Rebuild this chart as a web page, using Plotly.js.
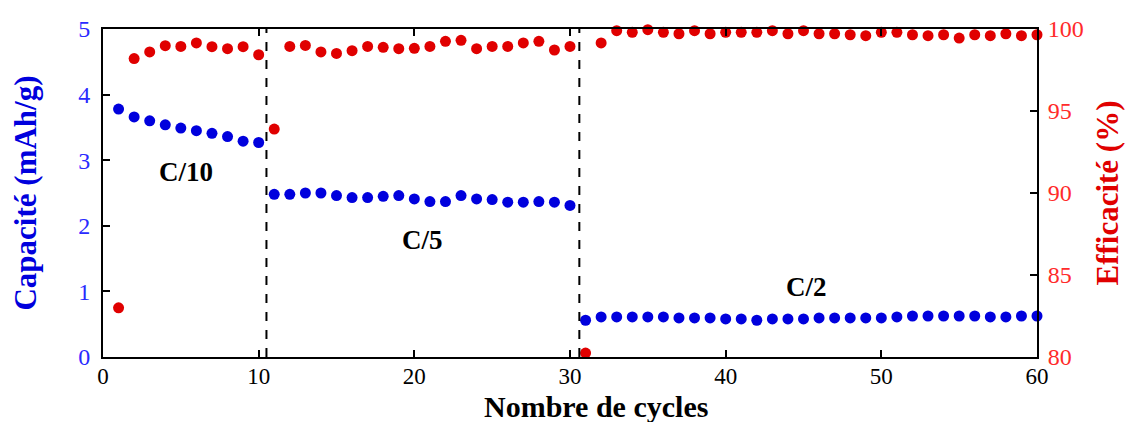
<!DOCTYPE html>
<html>
<head>
<meta charset="utf-8">
<script src="https://cdn.plot.ly/plotly-3.0.1.min.js"></script>
<style>html,body{margin:0;padding:0;background:#fff;}#chart{width:1126px;height:422px;}</style>
</head>
<body>
<div id="chart"></div>
<script>
// Cycle numbers
const cycles = Array.from({length: 60}, (_, i) => i + 1);

// Capacity (mAh/g), cycles 1..60
const capacityC10 = [3.78, 3.66, 3.60, 3.54, 3.49, 3.45, 3.41, 3.36, 3.29, 3.27];
const capacityC5 = [2.48, 2.48, 2.50, 2.50, 2.46, 2.43, 2.43, 2.45, 2.46, 2.41,
                    2.37, 2.37, 2.46, 2.41, 2.40, 2.36, 2.36, 2.37, 2.36, 2.31];
const capacityC2 = [0.56, 0.61, 0.61, 0.61, 0.61, 0.61, 0.595, 0.595, 0.595, 0.58,
                    0.58, 0.56, 0.58, 0.58, 0.58, 0.595, 0.595, 0.595, 0.595, 0.595,
                    0.61, 0.625, 0.625, 0.625, 0.625, 0.625, 0.61, 0.61, 0.625, 0.625];
const capacity = capacityC10.concat(capacityC5, capacityC2);

// Coulombic efficiency (%), cycles 1..60
const efficiency = [
  83.0, 98.2, 98.6, 98.98, 98.94, 99.15, 98.92, 98.8, 98.92, 98.43,
  93.9, 98.94, 99.0, 98.6, 98.51, 98.68, 98.94, 98.88, 98.8, 98.82,
  98.94, 99.25, 99.31, 98.8, 98.94, 98.94, 99.15, 99.25, 98.72, 98.94,
  80.24, 99.15, 99.9, 99.8, 99.96, 99.8, 99.71, 99.9, 99.71, 99.8,
  99.8, 99.8, 99.9, 99.71, 99.9, 99.71, 99.71, 99.65, 99.59, 99.8,
  99.8, 99.65, 99.59, 99.65, 99.45, 99.65, 99.59, 99.71, 99.59, 99.65
];

// Rate-change separators and labels
const separators = [10.5, 30.6];
const rateLabels = ["C/10", "C/5", "C/2"];
const rateLabelX = [5.3, 20.5, 45.2];
const rateLabelY = [2.82, 1.78, 1.07];
const xTitle = "Nombre de cycles";

const FONT = "Liberation Serif, Times New Roman, serif";
const BLUE = "#0000dd";
const RED = "#e00000";

const traces = [
  {x: cycles, y: capacity, type: "scatter", mode: "markers", yaxis: "y",
   marker: {color: BLUE, size: 11}, cliponaxis: false, showlegend: false},
  {x: cycles, y: efficiency, type: "scatter", mode: "markers", yaxis: "y2",
   marker: {color: RED, size: 11}, cliponaxis: false, showlegend: false}
];

const shapes = separators.map(s => ({
  type: "line", xref: "x", yref: "paper", x0: s, x1: s, y0: 0, y1: 1,
  line: {color: "#000", width: 2, dash: "dash"}
}));

const annotations = rateLabels.map((t, i) => ({
  text: "<b>" + t + "</b>", x: rateLabelX[i], y: rateLabelY[i], xref: "x", yref: "y",
  showarrow: false, font: {family: FONT, size: 27, color: "#000"}
}));
annotations.push({
  text: "<b>" + xTitle + "</b>", xref: "paper", yref: "paper", x: 0.528, y: 0,
  xanchor: "center", yanchor: "top", yshift: -32, showarrow: false, borderpad: 0,
  font: {family: FONT, size: 30, color: "#000"}
});

const layout = {
  width: 1126, height: 422,
  margin: {l: 103, r: 89, t: 29, b: 65},
  paper_bgcolor: "#fff", plot_bgcolor: "#fff",
  font: {family: FONT},
  showlegend: false,
  xaxis: {
    range: [0, 60], dtick: 10, tick0: 0,
    showgrid: false, zeroline: false,
    showline: true, linecolor: "#000", linewidth: 2, mirror: "ticks",
    ticks: "inside", ticklen: 7, tickwidth: 2, tickcolor: "#000",
    tickfont: {family: FONT, size: 23, color: "#000"},
    ticklabelstandoff: -3
  },
  yaxis: {
    range: [0, 5], dtick: 1, tick0: 0,
    showgrid: false, zeroline: false,
    showline: true, linecolor: "#000", linewidth: 2,
    ticks: "inside", ticklen: 7, tickwidth: 2, tickcolor: "#000",
    tickfont: {family: FONT, size: 24, color: "#2a2aff"},
    ticklabelstandoff: 6,
    title: {text: "<b>Capacité (mAh/g)</b>", font: {family: FONT, size: 31, color: BLUE}, standoff: 32}
  },
  yaxis2: {
    range: [80, 100], dtick: 5, tick0: 80,
    overlaying: "y", side: "right", anchor: "x",
    showgrid: false, zeroline: false,
    showline: true, linecolor: "#000", linewidth: 2,
    ticks: "inside", ticklen: 7, tickwidth: 2, tickcolor: "#000",
    tickfont: {family: FONT, size: 24, color: "#ff2a2a"},
    ticklabelstandoff: 4,
    title: {text: "<b>Efficacité (%)</b>", font: {family: FONT, size: 31, color: RED}, standoff: 14}
  },
  shapes: shapes,
  annotations: annotations
};

Plotly.newPlot("chart", traces, layout, {displayModeBar: false, staticPlot: true});
</script>
</body>
</html>
